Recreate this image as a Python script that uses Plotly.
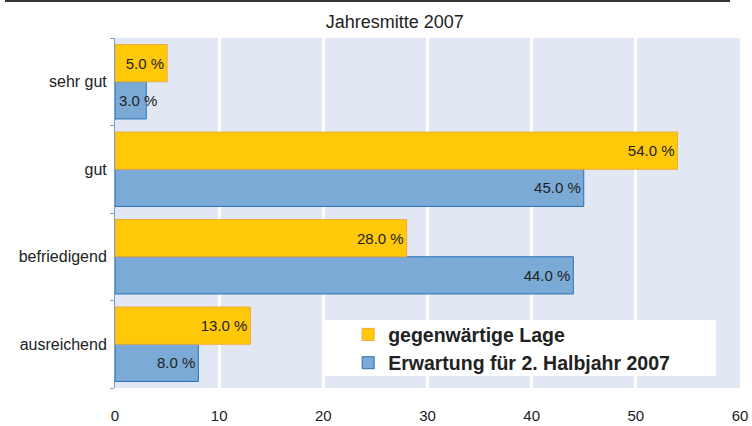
import plotly.graph_objects as go

categories = ["sehr gut", "gut", "befriedigend", "ausreichend"]
lage = [5.0, 54.0, 28.0, 13.0]
erwartung = [3.0, 45.0, 44.0, 8.0]
series_names = ["gegenwärtige Lage", "Erwartung für 2. Halbjahr 2007"]
x_ticks = [0, 10, 20, 30, 40, 50, 60]

SMALL = 4.0  # bars too short to hold their label
bargap = 0.15
FONT = "Liberation Sans, Arial, sans-serif"


def labels(vals):
    return [f"{v:.1f} %" if v >= SMALL else "" for v in vals]


fig = go.Figure()
fig.add_trace(go.Bar(
    y=categories, x=erwartung, orientation="h", name=series_names[1],
    marker=dict(color="#7aaad5", line=dict(color="#2a6fb5", width=1)),
    text=labels(erwartung), textposition="inside", insidetextanchor="end",
    constraintext="none", textangle=0,
    textfont=dict(color="#222222", size=15), legendrank=2,
))
fig.add_trace(go.Bar(
    y=categories, x=lage, orientation="h", name=series_names[0],
    marker=dict(color="#ffc90a", line=dict(color="#f2a83a", width=1)),
    text=labels(lage), textposition="inside", insidetextanchor="end",
    constraintext="none", textangle=0,
    textfont=dict(color="#222222", size=15), legendrank=1,
))

# labels of short bars: start inside the bar and run past its end
order = categories[::-1]
for vals, sign in ((erwartung, -1), (lage, 1)):
    for cat, v in zip(categories, vals):
        if v < SMALL:
            pos = order.index(cat) + sign * (1 - bargap) / 4
            fig.add_annotation(x=0, y=pos, xref="x", yref="y", text=f"{v:.1f} %",
                               showarrow=False, xanchor="left", xshift=2,
                               font=dict(size=15, color="#222222"))

fig.update_layout(
    width=752, height=426,
    margin=dict(l=115, r=12, t=38, b=38, autoexpand=False),
    paper_bgcolor="white", plot_bgcolor="#e1e8f3",
    font=dict(family=FONT, color="#222222", size=15),
    barmode="group", bargap=bargap, bargroupgap=0,
    title=dict(text="Jahresmitte 2007", x=0.525, xanchor="center", y=0.948, yanchor="middle",
               font=dict(size=18, color="#222222")),
    xaxis=dict(range=[0, 60], tickvals=x_ticks, showgrid=True, gridcolor="white", gridwidth=3,
               zeroline=False, showline=False, ticks="", tickfont=dict(size=15), ticklabelstandoff=17,
               automargin=False),
    yaxis=dict(categoryorder="array", categoryarray=order, showgrid=False,
               showline=True, linecolor="#6f9fd0", linewidth=1,
               ticks="outside", tickson="boundaries", ticklen=4, tickcolor="#6f9fd0",
               tickfont=dict(size=16), ticklabelstandoff=4, automargin=False),
    legend=dict(x=0.373, y=0.208, xanchor="left", yanchor="top", bgcolor="rgba(0,0,0,0)",
                font=dict(size=19.5, family=FONT, color="#222222", weight="bold"),
                itemwidth=30, borderwidth=0, tracegroupgap=0),
    showlegend=True,
)
fig.add_shape(type="rect", xref="x", yref="paper", x0=19.9, x1=57.7, y0=0.034, y1=0.194,
              fillcolor="white", line=dict(width=0), layer="above")
fig.add_shape(type="line", xref="paper", yref="paper", x0=-0.176, x1=0.984, y0=1.106, y1=1.106,
              line=dict(color="#333333", width=2))
fig.write_html("out.html", post_script="document.body.style.margin='0';",
               config={"displayModeBar": False})
